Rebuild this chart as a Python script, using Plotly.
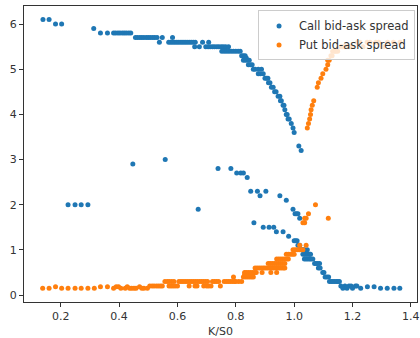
import plotly.graph_objects as go

# ---- Call bid-ask spread (K/S0, spread) ----
call_k = [0.139, 0.160, 0.182, 0.203,
          0.225, 0.249, 0.270, 0.293,
          0.313, 0.336, 0.360,
          0.381, 0.388, 0.396, 0.403, 0.411, 0.418, 0.425, 0.433, 0.440,
          0.447,
          0.456, 0.463, 0.471, 0.478, 0.485, 0.493, 0.500, 0.507, 0.515, 0.522, 0.530,
          0.538, 0.548, 0.558,
          0.570, 0.577, 0.584, 0.591, 0.598, 0.605, 0.612, 0.619, 0.626, 0.633, 0.640, 0.647, 0.654, 0.661,
          0.583,
          0.659, 0.671, 0.675, 0.686, 0.697, 0.707,
          0.705, 0.712, 0.720, 0.727, 0.735, 0.742, 0.750, 0.757, 0.765, 0.775,
          0.739, 0.783, 0.803, 0.817, 0.826, 0.839,
          0.752, 0.760, 0.768, 0.776, 0.784, 0.792, 0.800, 0.808, 0.815,
          0.820, 0.826, 0.832, 0.830, 0.836, 0.826, 0.833, 0.840, 0.846,
          0.843, 0.850, 0.856, 0.860, 0.866, 0.877, 0.888, 0.877, 0.884, 0.894,
          0.900, 0.905, 0.910, 0.912, 0.917, 0.922, 0.928, 0.933, 0.938,
          0.945, 0.951, 0.953, 0.956, 0.962, 0.965, 0.968, 0.973, 0.976,
          0.979, 0.983, 0.990, 0.996, 1.000, 1.016, 1.024,
          0.851, 0.874, 0.903, 0.883, 0.951, 0.973, 0.996, 1.003, 1.008, 1.013, 1.019,
          0.862, 0.894, 0.914, 0.930, 0.939, 0.962, 0.981,
          1.000, 1.005, 1.010, 1.013, 1.019,
          1.024, 1.030, 1.036, 1.045,
          1.030, 1.036, 1.041, 1.047, 1.053, 1.056,
          1.035, 1.041, 1.047, 1.053, 1.058, 1.064,
          1.070, 1.075, 1.081, 1.087, 1.083, 1.089,
          1.098, 1.102, 1.106, 1.112, 1.118,
          1.121, 1.127, 1.133, 1.139, 1.145, 1.150, 1.155,
          1.160, 1.174, 1.188, 1.195, 1.210, 1.215,
          1.167, 1.181, 1.200, 1.228,
          1.251, 1.274,
          1.296, 1.319, 1.342, 1.362]
call_spread = [6.1, 6.1, 6.0, 6.0,
               2.0, 2.0, 2.0, 2.0,
               5.9, 5.8, 5.8,
               5.8, 5.8, 5.8, 5.8, 5.8, 5.8, 5.8, 5.8, 5.8,
               2.9,
               5.7, 5.7, 5.7, 5.7, 5.7, 5.7, 5.7, 5.7, 5.7, 5.7, 5.7,
               5.6, 5.7, 3.0,
               5.6, 5.6, 5.6, 5.6, 5.6, 5.6, 5.6, 5.6, 5.6, 5.6, 5.6, 5.6, 5.6, 5.6,
               5.7,
               5.5, 1.9, 5.5, 5.6, 5.5, 5.6,
               5.5, 5.5, 5.5, 5.5, 5.5, 5.5, 5.5, 5.5, 5.5, 5.5,
               2.8, 2.8, 2.7, 2.7, 2.7, 2.6,
               5.4, 5.4, 5.4, 5.4, 5.4, 5.4, 5.4, 5.4, 5.4,
               5.3, 5.3, 5.3, 5.25, 5.25, 5.2, 5.2, 5.2, 5.2,
               5.1, 5.1, 5.1, 5.0, 5.0, 5.0, 5.0, 4.9, 4.9, 4.9,
               4.8, 4.8, 4.8, 4.7, 4.7, 4.6, 4.6, 4.5, 4.5,
               4.4, 4.4, 4.3, 4.3, 4.2, 4.2, 4.1, 4.0, 4.0,
               3.9, 3.9, 3.8, 3.7, 3.6, 3.3, 3.2,
               2.3, 2.3, 2.3, 2.2, 2.2, 2.1, 1.9, 1.8, 1.8, 1.8, 1.7,
               1.6, 1.5, 1.5, 1.5, 1.4, 1.4, 1.3,
               1.2, 1.2, 1.2, 1.1, 1.1,
               1.0, 1.0, 1.0, 1.0,
               0.9, 0.9, 0.9, 0.9, 0.9, 0.9,
               0.8, 0.8, 0.8, 0.8, 0.8, 0.8,
               0.7, 0.7, 0.7, 0.7, 0.6, 0.6,
               0.5, 0.5, 0.4, 0.4, 0.4,
               0.3, 0.3, 0.3, 0.3, 0.3, 0.3, 0.3,
               0.2, 0.2, 0.2, 0.2, 0.2, 0.2,
               0.15, 0.15, 0.15, 0.15,
               0.18, 0.18,
               0.15, 0.15, 0.15, 0.15]

# ---- Put bid-ask spread (K/S0, spread) ----
put_k = [0.138, 0.160, 0.203, 0.225, 0.249, 0.270, 0.293, 0.315,
         0.381, 0.406, 0.421, 0.436, 0.443, 0.451, 0.458, 0.478, 0.485, 0.497,
         0.182, 0.336, 0.360, 0.390, 0.398, 0.428, 0.470,
         0.505, 0.513, 0.520, 0.528, 0.535, 0.542, 0.548,
         0.571, 0.578, 0.585, 0.592, 0.600, 0.640, 0.660, 0.667, 0.690, 0.700, 0.707, 0.715, 0.747,
         0.557, 0.565, 0.572, 0.580, 0.588,
         0.605, 0.612, 0.619, 0.626, 0.633, 0.640, 0.647, 0.654, 0.661, 0.668, 0.675, 0.682, 0.689, 0.696, 0.703,
         0.720, 0.727, 0.734, 0.741, 0.760, 0.767, 0.774, 0.781, 0.788, 0.795, 0.800, 0.810, 0.820,
         0.792, 0.826, 0.833, 0.840, 0.847, 0.854, 0.860,
         0.830, 0.837, 0.844, 0.851, 0.858,
         0.830, 0.836, 0.843, 0.850, 0.857, 0.864, 0.870, 0.890, 0.920, 0.940,
         0.866, 0.873, 0.880, 0.887, 0.894, 0.900, 0.907, 0.914, 0.921, 0.928, 0.935, 0.942, 0.949, 0.956, 0.963, 0.968,
         0.911, 0.918, 0.925, 0.932, 0.939, 0.946, 0.953, 0.960, 0.968,
         0.940, 0.947, 0.954, 0.961, 0.968, 0.975, 0.980,
         0.973, 0.980, 0.987, 0.994, 1.000,
         0.996, 1.003, 1.010, 1.017, 1.024, 1.030,
         1.019, 1.041,
         1.030, 1.036, 1.036, 1.041, 1.117, 1.049, 1.073,
         1.045, 1.049, 1.053, 1.056, 1.058, 1.062, 1.067,
         1.079, 1.083, 1.092, 1.098, 1.109, 1.115, 1.115, 1.120, 1.126, 1.130,
         1.132, 1.138, 1.143, 1.149,
         1.160, 1.166, 1.172, 1.178, 1.184, 1.190, 1.196, 1.236, 1.305,
         1.217, 1.225, 1.250, 1.260, 1.280, 1.290, 1.320, 1.340, 1.363]
put_spread = [0.15, 0.15, 0.15, 0.15, 0.15, 0.15, 0.15, 0.15,
              0.15, 0.15, 0.15, 0.15, 0.15, 0.15, 0.15, 0.15, 0.15, 0.15,
              0.18, 0.18, 0.18, 0.18, 0.18, 0.18, 0.18,
              0.2, 0.2, 0.2, 0.2, 0.2, 0.2, 0.2,
              0.2, 0.2, 0.2, 0.2, 0.2, 0.2, 0.2, 0.2, 0.2, 0.2, 0.2, 0.2, 0.2,
              0.3, 0.3, 0.3, 0.3, 0.3,
              0.3, 0.3, 0.3, 0.3, 0.3, 0.3, 0.3, 0.3, 0.3, 0.3, 0.3, 0.3, 0.3, 0.3, 0.3,
              0.3, 0.3, 0.3, 0.3, 0.3, 0.3, 0.3, 0.3, 0.3, 0.3, 0.3, 0.3, 0.3,
              0.4, 0.4, 0.4, 0.4, 0.4, 0.4, 0.4,
              0.45, 0.45, 0.45, 0.45, 0.45,
              0.5, 0.5, 0.5, 0.5, 0.5, 0.5, 0.5, 0.5, 0.5, 0.5,
              0.6, 0.6, 0.6, 0.6, 0.6, 0.6, 0.6, 0.6, 0.6, 0.6, 0.6, 0.6, 0.6, 0.6, 0.6, 0.6,
              0.7, 0.7, 0.7, 0.7, 0.7, 0.7, 0.7, 0.7, 0.7,
              0.8, 0.8, 0.8, 0.8, 0.8, 0.8, 0.8,
              0.9, 0.9, 0.9, 0.9, 0.9,
              1.0, 1.0, 1.0, 1.0, 1.0, 1.0,
              1.1, 1.1,
              1.6, 1.6, 1.7, 1.7, 1.7, 1.8, 2.0,
              3.7, 3.8, 3.9, 4.0, 4.1, 4.2, 4.3,
              4.6, 4.7, 4.8, 4.9, 5.0, 5.1, 5.2, 5.2, 5.3, 5.3,
              5.4, 5.4, 5.4, 5.4,
              5.5, 5.5, 5.5, 5.5, 5.5, 5.5, 5.5, 5.5, 5.5,
              5.6, 5.6, 5.6, 5.6, 5.6, 5.6, 5.6, 5.6, 5.6]

x_ticks = [0.2, 0.4, 0.6, 0.8, 1.0, 1.2, 1.4]
y_ticks = [0, 1, 2, 3, 4, 5, 6]

FONT = "DejaVu Sans, Arial, sans-serif"

fig = go.Figure()
fig.add_trace(go.Scatter(x=call_k, y=call_spread, mode="markers",
                         name="Call bid-ask spread",
                         marker=dict(color="#1f77b4", size=5, line=dict(width=0))))
fig.add_trace(go.Scatter(x=put_k, y=put_spread, mode="markers",
                         name="Put bid-ask spread",
                         marker=dict(color="#ff7f0e", size=5, line=dict(width=0))))

axis_common = dict(showline=True, linecolor="#333", linewidth=1, mirror=True,
                   showgrid=False, zeroline=False, ticks="outside", ticklen=4,
                   tickcolor="#333", tickfont=dict(family=FONT, size=11, color="#333"))

fig.update_layout(
    width=420, height=338,
    margin=dict(l=24, r=0, t=6, b=36),
    paper_bgcolor="white", plot_bgcolor="white",
    font=dict(family=FONT, size=11, color="#333"),
    showlegend=True,
    legend=dict(x=0.995, y=0.985, xanchor="right", yanchor="top",
                bgcolor="rgba(255,255,255,0.8)", bordercolor="#cccccc", borderwidth=1,
                font=dict(family=FONT, size=11.5, color="#333"),
                itemsizing="trace", tracegroupgap=0),
    xaxis=dict(range=[0.074, 1.421], tickvals=x_ticks, tickformat=".1f",
               ticklabeloverflow="allow",
               title=dict(text="K/S0", font=dict(family=FONT, size=11, color="#333"), standoff=6),
               **axis_common),
    yaxis=dict(range=[-0.155, 6.4], tickvals=y_ticks, **axis_common),
)

fig.write_html("out.html")
